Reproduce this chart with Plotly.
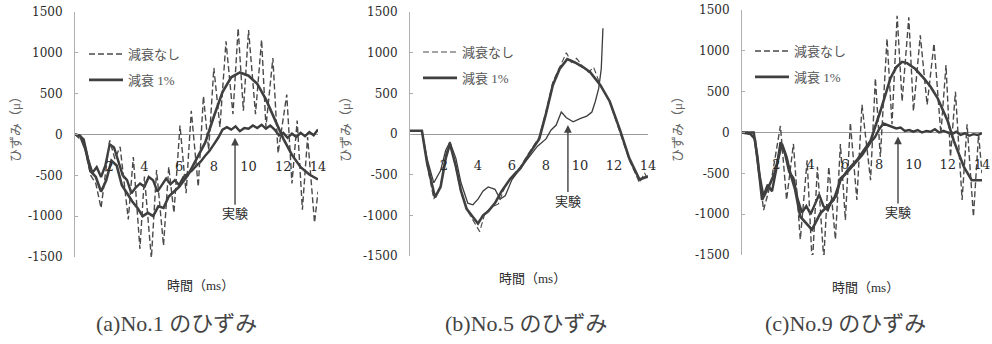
import plotly.graph_objects as go

W, H = 992, 344

# ---------------- data ----------------
# (a) No.1
a_dash_t = [0, 0.5, 0.9, 1.2, 1.5, 1.8, 2.0, 2.3, 2.6, 3.07, 3.36, 3.74, 4.0, 4.4, 4.7, 5.1, 5.4, 5.7, 6.05, 6.4,
            6.7, 7.1, 7.4, 7.7, 8.0, 8.35, 8.7, 9.1, 9.4, 9.7, 10.0, 10.4, 10.75, 11.0, 11.4, 11.7, 12.2, 12.5,
            12.8, 13.1, 13.4, 13.8, 14.0]
a_dash_v = [0, -100, -500, -600, -900, -400, -70, -300, -150, -1040, -275, -1400, -515, -1520, -435, -1360, -395,
            -960, 110, -720, 290, -640, 470, -190, 815, 90, 1140, 250, 1300, 290, 1280, 250, 1160, 90, 935, -230,
            490, -600, 170, -920, -30, -1080, -700]
a_damp_t = [0, 0.3, 0.6, 0.9, 1.2, 1.5, 1.8, 2.1, 2.4, 2.7, 3.0, 3.3, 3.6, 3.9, 4.2, 4.5, 4.8, 5.1, 5.4, 5.7, 6.0,
            6.5, 7.0, 7.5, 8.0, 8.5, 9.0, 9.5, 10.0, 10.5, 11.0, 11.5, 12.0, 12.5, 13.0, 13.5, 14.0]
a_damp_v = [0, -20, -180, -450, -520, -700, -560, -320, -380, -620, -720, -820, -900, -1000, -960, -1000, -880,
            -900, -760, -700, -640, -500, -300, -100, 220, 520, 700, 760, 720, 620, 430, 200, -50, -250, -400,
            -490, -550]
a_exp_t = [0, 0.25, 0.5, 0.75, 1.0, 1.25, 1.5, 1.75, 2.0, 2.25, 2.5, 2.75, 3.0, 3.25, 3.5, 3.75, 4.0, 4.25, 4.5,
           4.75, 5.0, 5.25, 5.5, 5.75, 6.0, 6.25, 6.5, 6.75, 7.0, 7.25, 7.5, 7.75, 8.0, 8.25, 8.5, 8.75, 9.0,
           9.25, 9.5, 9.75, 10.0, 10.25, 10.5, 10.75, 11.0, 11.25, 11.5, 11.75, 12.0, 12.25, 12.5, 12.75, 13.0,
           13.25, 13.5, 13.75, 14.0]
a_exp_v = [0, -10, -60, -300, -470, -400, -520, -380, -120, -160, -330, -500, -560, -720, -650, -600, -640, -520,
           -560, -700, -620, -540, -610, -560, -620, -520, -480, -440, -380, -330, -260, -200, -120, -40, 60, 90,
           60, 100, 40, 80, 70, 110, 80, 120, 70, 110, 60, -10, 20, -40, 10, -30, 20, -20, 30, -10, 60]

# (b) No.5
b_dash_t = [0, 0.7, 1.0, 1.4, 1.8, 2.1, 2.35, 2.7, 3.0, 3.4, 3.7, 4.0, 4.1, 4.4, 4.8, 5.2, 5.6, 6.0, 6.5, 7.0,
            7.6, 8.0, 8.4, 8.8, 9.2, 9.5, 9.8, 10.2, 10.5, 10.8, 11.2, 11.7, 12.3, 12.9, 13.5, 13.8, 14.0]
b_dash_v = [40, 40, -380, -800, -640, -260, -80, -420, -720, -950, -1050, -1150, -1200, -980, -900, -860, -640,
            -520, -400, -230, -40, 280, 640, 820, 1000, 880, 930, 820, 760, 820, 600, 420, 60, -320, -600, -480,
            -560]
b_damp_t = [0, 0.7, 1.0, 1.47, 1.8, 2.1, 2.35, 2.7, 3.0, 3.33, 3.7, 4.0, 4.3, 4.6, 5.0, 5.4, 5.9, 6.5, 7.0, 7.6,
            8.0, 8.4, 8.8, 9.25, 9.7, 10.2, 10.6, 11.2, 11.75, 12.35, 12.9, 13.5, 14.0]
b_damp_v = [40, 40, -350, -780, -650, -300, -120, -400, -700, -920, -1020, -1100, -1000, -950, -850, -700, -550,
            -420, -250, -60, 250, 600, 800, 920, 880, 820, 760, 600, 400, 50, -300, -560, -520]
b_exp_t = [0, 0.7, 1.0, 1.4, 1.8, 2.1, 2.35, 2.7, 3.0, 3.4, 3.7, 4.0, 4.3, 4.6, 5.0, 5.3, 5.6, 6.0, 6.5, 7.0, 7.5,
           8.0, 8.3, 8.6, 8.9, 9.2, 9.6, 10.0, 10.4, 10.7, 10.9, 11.1, 11.25, 11.35]
b_exp_v = [40, 40, -300, -600, -450, -200, -100, -300, -600, -850, -870, -800, -700, -650, -680, -800, -760, -560,
           -420, -280, -150, -60, 50, 110, 270, 200, 150, 190, 220, 270, 400, 560, 800, 1300]

# (c) No.9
c_dash_t = [0, 0.7, 1.0, 1.26, 1.7, 2.24, 2.6, 3.0, 3.4, 3.8, 4.1, 4.4, 4.77, 5.06, 5.45, 5.74, 6.03, 6.32, 6.7,
            7.0, 7.5, 7.78, 8.07, 8.46, 8.75, 9.05, 9.34, 9.73, 10.0, 10.4, 10.8, 11.2, 11.6, 11.9, 12.16, 12.45,
            12.84, 13.13, 13.5, 13.8, 14.0]
c_dash_v = [0, 0, -500, -950, -600, 80, -825, -140, -1310, -340, -1630, -420, -1550, -420, -1310, -140, -1070, 120,
            -825, 340, -585, 665, -300, 1150, 100, 1430, 380, 1410, 260, 1190, 340, 1090, -20, 825, -300, 500,
            -825, 100, -1030, -20, -500]
c_damp_t = [0, 0.68, 0.9, 1.17, 1.56, 1.9, 2.33, 2.6, 2.82, 3.1, 3.4, 3.7, 4.08, 4.3, 4.57, 5.0, 5.35, 5.74, 6.2,
            6.7, 7.1, 7.5, 8.07, 8.66, 9.0, 9.34, 9.63, 10.1, 10.6, 11.0, 11.4, 12.0, 12.35, 12.94, 13.4, 14.0]
c_damp_v = [0, 0, -300, -825, -665, -500, -140, -300, -500, -700, -1030, -1100, -1190, -1100, -990, -900, -825,
            -585, -450, -340, -220, -100, 260, 665, 800, 865, 850, 780, 665, 560, 425, 140, -100, -420, -585, -585]
c_exp_t = a_exp_t
c_exp_v = [0, -10, -20, -80, -500, -780, -640, -720, -450, -120, -250, -480, -560, -820, -980, -900, -1000, -880,
           -760, -900, -950, -820, -780, -560, -520, -460, -400, -350, -280, -200, -120, -60, 40, 110, 90, 70, 50,
           60, 20, 30, 10, 30, 0, 20, 10, 40, 0, 20, 0, -20, 10, -30, -10, -40, -20, -30, -10]

x_ticks = [2, 4, 6, 8, 10, 12, 14]
y_ticks = [-1500, -1000, -500, 0, 500, 1000, 1500]
y_ticktext = ["-1500", "-1000", "-500", "0", "500", "1000", "1500"]
legend_names = ["減衰なし", "減衰 1%"]
captions = ["(a)No.1 のひずみ", "(b)No.5 のひずみ", "(c)No.9 のひずみ"]
exp_label = "実験"
x_title = "時間（ms）"
y_title = "ひずみ（μ）"
arrow_tips = [(9.22, -40), (9.29, 110), (9.1, -50)]

# ---------------- layout geometry (pixels) ----------------
panels = [
    dict(x0=75, x1=318, y0=12, y1=257, leg=(84, 39), ytx=15, xt=(200, 285), cap=176),
    dict(x0=410, x1=648, y0=12, y1=256, leg=(418, 37), ytx=345, xt=(532, 278), cap=526),
    dict(x0=742, x1=982, y0=10, y1=255, leg=(750, 36), ytx=677, xt=(865, 287), cap=845),
]

NUM = "DejaVu Serif, serif"
JP = "Liberation Serif, Noto Sans CJK JP"
TXT = "#2a2a2a"

data_sets = [
    (a_dash_t, a_dash_v, a_damp_t, a_damp_v, a_exp_t, a_exp_v),
    (b_dash_t, b_dash_v, b_damp_t, b_damp_v, b_exp_t, b_exp_v),
    (c_dash_t, c_dash_v, c_damp_t, c_damp_v, c_exp_t, c_exp_v),
]

fig = go.Figure()
layout = dict(template="none", width=W, height=H, margin=dict(l=0, r=0, t=0, b=0, autoexpand=False),
              paper_bgcolor="white", plot_bgcolor="white", annotations=[])


def paper_text(px, py, text, size, color, angle=0):
    return dict(x=px / W, y=1 - py / H, xref="paper", yref="paper", xanchor="center", yanchor="middle",
                text=text, textangle=angle, showarrow=False, font=dict(family=JP, size=size, color=color))


for i, (p, ds) in enumerate(zip(panels, data_sets)):
    sfx = "" if i == 0 else str(i + 1)
    xa, ya = "x" + sfx, "y" + sfx
    leg = "legend" + sfx
    dt, dv, mt, mv, et, ev = ds
    exp_width = 1.3 if i == 1 else 2.4
    fig.add_trace(go.Scatter(x=et, y=ev, mode="lines", xaxis=xa, yaxis=ya, showlegend=False,
                             line=dict(color="#3c3c3c", width=exp_width)))
    fig.add_trace(go.Scatter(x=dt, y=dv, mode="lines", xaxis=xa, yaxis=ya, name=legend_names[0], legend=leg,
                             legendgroup="g0" + sfx,
                             line=dict(color="#4a4a4a", width=1.4 if i != 1 else 1.1, dash="6px,3px")))
    fig.add_trace(go.Scatter(x=mt, y=mv, mode="lines", xaxis=xa, yaxis=ya, name=legend_names[1], legend=leg,
                             legendgroup="g1" + sfx,
                             line=dict(color="#404040", width=2.6)))

    xd = [p["x0"] / W, p["x1"] / W]
    yd = [1 - p["y1"] / H, 1 - p["y0"] / H]
    zero_py = (p["y0"] + p["y1"]) / 2
    layout["xaxis" + sfx] = dict(domain=xd, range=[0, 14], anchor="free", position=1 - (zero_py + 22) / H,
                                 tickvals=x_ticks, ticks="", showline=False, showgrid=False, zeroline=False,
                                 ticklabeloverflow="allow", automargin=False,
                                 tickfont=dict(family=NUM, size=13, color=TXT))
    layout["yaxis" + sfx] = dict(domain=yd, range=[-1500, 1500], anchor=xa, tickvals=y_ticks,
                                 ticktext=y_ticktext, ticks="inside", ticklen=3, tickcolor="#aaaaaa",
                                 showline=True, linecolor="#b0b0b0", linewidth=1, showgrid=False,
                                 zeroline=True, zerolinecolor="#9a9a9a", zerolinewidth=1,
                                 ticklabelstandoff=9, automargin=False,
                                 tickfont=dict(family=NUM, size=12, color=TXT))
    layout[leg] = dict(x=p["leg"][0] / W, y=1 - p["leg"][1] / H, xanchor="left", yanchor="top",
                       bgcolor="rgba(0,0,0,0)", itemwidth=34, tracegroupgap=6, traceorder="grouped",
                       font=dict(family=JP, size=13, color="#555555"))
    tx, ty = arrow_tips[i]
    layout["annotations"].append(dict(x=tx, y=ty, xref=xa, yref=ya, text=exp_label, showarrow=True,
                                      ax=0, ay=76, arrowhead=2, arrowsize=1.1, arrowwidth=1.4,
                                      arrowcolor="#444444",
                                      font=dict(family=JP, size=13, color=TXT)))
    layout["annotations"].append(paper_text(p["ytx"], 126, y_title, 13, "#666666", angle=-90))
    layout["annotations"].append(paper_text(p["xt"][0], p["xt"][1], x_title, 13, TXT))
    layout["annotations"].append(paper_text(p["cap"], 323, captions[i], 22, "#444444"))

fig.update_layout(**layout)
fig.write_html("out.html", config={"displayModeBar": False},
               post_script="document.body.style.margin='0';document.body.style.overflow='hidden';")
